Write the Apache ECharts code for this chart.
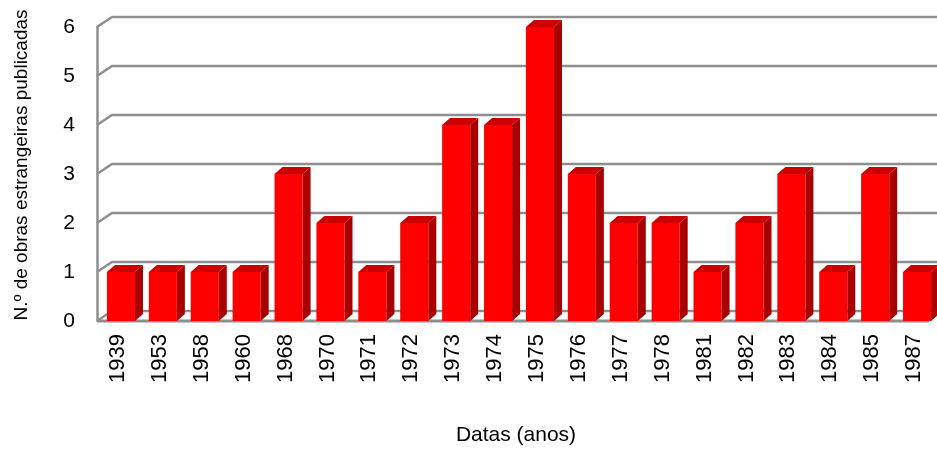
<!DOCTYPE html>
<html>
<head>
<meta charset="utf-8">
<script src="https://cdn.jsdelivr.net/npm/echarts@6/dist/echarts.min.js"></script>
<style>
  html, body { margin: 0; padding: 0; background: #fff; }
  #chart { width: 937px; height: 451px; }
</style>
</head>
<body>
<div id="chart"></div>
<script>
// Foreign works published per year
const years = ['1939', '1953', '1958', '1960', '1968', '1970', '1971', '1972', '1973', '1974',
               '1975', '1976', '1977', '1978', '1981', '1982', '1983', '1984', '1985', '1987'];
const works = [1, 1, 1, 1, 3, 2, 1, 2, 4, 4, 6, 3, 2, 2, 1, 2, 3, 1, 3, 1];
const yTicks = [0, 1, 2, 3, 4, 5, 6];
const yTitle = 'N.º de obras estrangeiras publicadas';
const xTitle = 'Datas (anos)';

const FONT = '"Liberation Sans", Arial, sans-serif';
const WALL = [15, -10];   // back-wall depth offset
const DEPTH = [8, -7];    // bar depth offset
const GRID_COLOR = '#8e8e8e';

const chart = echarts.init(document.getElementById('chart'), null, { renderer: 'canvas' });

// Back-wall gridlines with the short diagonals back from the front axis
function renderWall(params, api) {
  const cs = params.coordSys;
  const v = api.value(0);
  const y = api.coord([0, v])[1];
  const x0 = cs.x;
  const children = [{
    type: 'polyline',
    shape: { points: [[x0, y], [x0 + WALL[0], y + WALL[1]], [x0 + cs.width + WALL[0] + 5, y + WALL[1]]] },
    style: { stroke: GRID_COLOR, lineWidth: 2.5, fill: null }
  }];
  if (v === 0) {
    children.push({
      type: 'line',
      shape: { x1: x0, y1: y, x2: x0 + cs.width - 6, y2: y },
      style: { stroke: GRID_COLOR, lineWidth: 3 }
    });
  }
  return { type: 'group', children };
}

// 3D-looking columns: front face, top and right side
function renderBar(params, api) {
  const idx = api.value(0);
  const val = api.value(1);
  const top = api.coord([idx, val]);
  const base = api.coord([idx, 0]);
  const bw = api.size([1, 0])[0] * 0.67;
  const xl = top[0] - bw / 2 + 3;
  const xr = xl + bw;
  const yt = top[1];
  const yb = base[1];
  const dx = DEPTH[0], dy = DEPTH[1];
  return {
    type: 'group',
    children: [
      {
        type: 'polygon',
        shape: { points: [[xr, yt], [xr + dx, yt + dy], [xr + dx, yb + dy], [xr, yb]] },
        style: { fill: '#a80000' }
      },
      {
        type: 'polygon',
        shape: { points: [[xl, yt], [xl + dx, yt + dy], [xr + dx, yt + dy], [xr, yt]] },
        style: { fill: '#cc0000' }
      },
      {
        type: 'rect',
        shape: { x: xl, y: yt, width: bw, height: yb - yt },
        style: { fill: '#ff0000' }
      }
    ]
  };
}

chart.setOption({
  backgroundColor: '#ffffff',
  animation: false,
  grid: { left: 97, right: 2, top: 27, bottom: 129, containLabel: false },
  graphic: [{
    type: 'text',
    x: 22,
    y: 165,
    rotation: Math.PI / 2,
    style: {
      text: yTitle,
      fontFamily: FONT,
      fontSize: 19,
      fill: '#000',
      align: 'center',
      verticalAlign: 'middle'
    }
  }],
  xAxis: {
    type: 'category',
    data: years,
    name: xTitle,
    nameLocation: 'middle',
    nameGap: 104,
    nameTextStyle: { fontFamily: FONT, fontSize: 21, color: '#000' },
    axisLine: { show: false },
    axisTick: { show: false },
    axisLabel: { rotate: 90, fontFamily: FONT, fontSize: 22, color: '#000', margin: 13 },
    splitLine: { show: false }
  },
  yAxis: {
    type: 'value',
    min: 0,
    max: 6,
    interval: 1,
    axisLine: { show: true, lineStyle: { color: GRID_COLOR, width: 2.5 } },
    axisTick: { show: false },
    axisLabel: { fontFamily: FONT, fontSize: 21, color: '#000', margin: 22 },
    splitLine: { show: false }
  },
  series: [
    {
      type: 'custom',
      renderItem: renderWall,
      data: yTicks.map(v => [v]),
      encode: { y: 0 },
      clip: false,
      silent: true,
      z: 1
    },
    {
      type: 'custom',
      renderItem: renderBar,
      data: works.map((v, i) => [i, v]),
      encode: { x: 0, y: 1 },
      clip: false,
      z: 2
    }
  ]
});
</script>
</body>
</html>
